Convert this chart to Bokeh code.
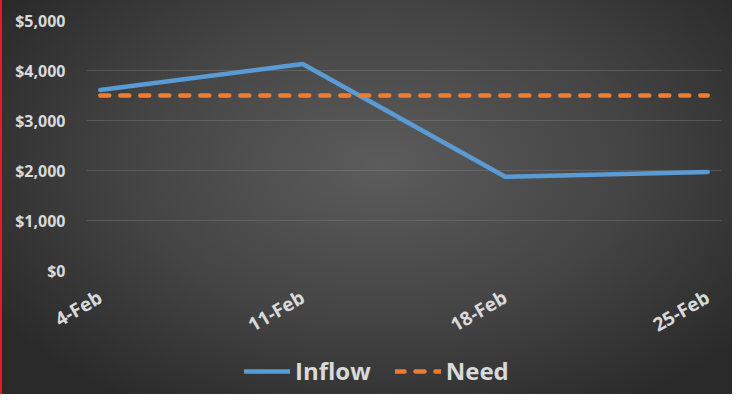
import math
from bokeh.plotting import figure
from bokeh.layouts import column
from bokeh.models import FixedTicker, Range1d, Legend, LegendItem
from bokeh.embed import file_html
from bokeh.resources import INLINE

dates = ["4-Feb", "11-Feb", "18-Feb", "25-Feb"]
inflow = [3610, 4130, 1875, 1970]
need = [3500, 3500, 3500, 3500]
y_ticks = [0, 1000, 2000, 3000, 4000, 5000]
y_labels = ["$0", "$1,000", "$2,000", "$3,000", "$4,000", "$5,000"]
series_names = ["Inflow", "Need"]

xs = list(range(len(dates)))

font = "Open Sans"
lab_col = "#d9d9d9"
blue = "#5b9bd5"
orange = "#ed7d31"

p = figure(width=732, height=352, output_backend="svg", toolbar_location=None,
           x_range=Range1d(-0.068, len(dates) - 1 + 0.068), y_range=Range1d(0, 5000),
           min_border_left=86, min_border_right=11, min_border_top=20, min_border_bottom=82)
p.background_fill_color = None
p.border_fill_color = None
p.outline_line_color = None

p.line(xs, inflow, line_color=blue, line_width=4.5, line_cap="round", line_join="round")
p.line(xs, need, line_color=orange, line_width=4.5, line_cap="round", line_dash="9 11")

p.xgrid.grid_line_color = None
p.ygrid.grid_line_color = "#8a8a8a"
p.ygrid.grid_line_alpha = 0.35
p.ygrid.grid_line_width = 1
p.ygrid.ticker = FixedTicker(ticks=y_ticks)

p.yaxis.ticker = FixedTicker(ticks=y_ticks)
p.yaxis.major_label_overrides = {t: l for t, l in zip(y_ticks, y_labels)}
p.xaxis.ticker = FixedTicker(ticks=xs)
p.xaxis.major_label_overrides = {x: d for x, d in zip(xs, dates)}
p.xaxis.major_label_orientation = math.pi / 6

for ax in (p.xaxis, p.yaxis):
    ax.axis_line_color = None
    ax.major_tick_line_color = None
    ax.minor_tick_line_color = None
    ax.major_tick_out = 0
    ax.major_tick_in = 0
    ax.major_label_text_font = font
    ax.major_label_text_font_style = "bold"
    ax.major_label_text_color = lab_col
p.yaxis.major_label_text_font_size = "16px"
p.xaxis.major_label_text_font_size = "19px"
p.yaxis.major_label_standoff = 21
p.xaxis.major_label_standoff = 25

# legend strip (its lines lie outside its tiny y range, so only the legend shows)
q = figure(width=732, height=42, output_backend="svg", toolbar_location=None,
           x_axis_type=None, y_axis_type=None,
           x_range=Range1d(-0.068, len(dates) - 1 + 0.068), y_range=Range1d(0, 1),
           min_border_left=86, min_border_right=11, min_border_top=0, min_border_bottom=0)
q.background_fill_color = None
q.border_fill_color = None
q.outline_line_color = None
q.grid.grid_line_color = None
l_in = q.line(xs, inflow, line_color=blue, line_width=4.5, line_cap="round")
l_need = q.line(xs, need, line_color=orange, line_width=4.5, line_cap="round", line_dash="9 11")

legend = Legend(items=[LegendItem(label=series_names[0], renderers=[l_in]),
                       LegendItem(label=series_names[1], renderers=[l_need])],
                orientation="horizontal", location=(158, 7))
legend.background_fill_alpha = 0
legend.border_line_color = None
legend.label_text_font = font
legend.label_text_font_style = "bold"
legend.label_text_font_size = "24px"
legend.label_text_color = lab_col
legend.glyph_width = 46
legend.glyph_height = 30
legend.label_standoff = 5
legend.spacing = 24
legend.padding = 0
legend.margin = 0
q.add_layout(legend)

layout = column(p, q, spacing=0, styles={
    "background": "linear-gradient(to right, #e31b2a 0px, #e31b2a 2px, transparent 2px), "
                  "radial-gradient(ellipse 62% 72% at 52% 42%, #5c5c5c 0%, #444444 55%, #2a2a2a 100%)"
})

open("out.html", "w").write(file_html(layout, INLINE))
